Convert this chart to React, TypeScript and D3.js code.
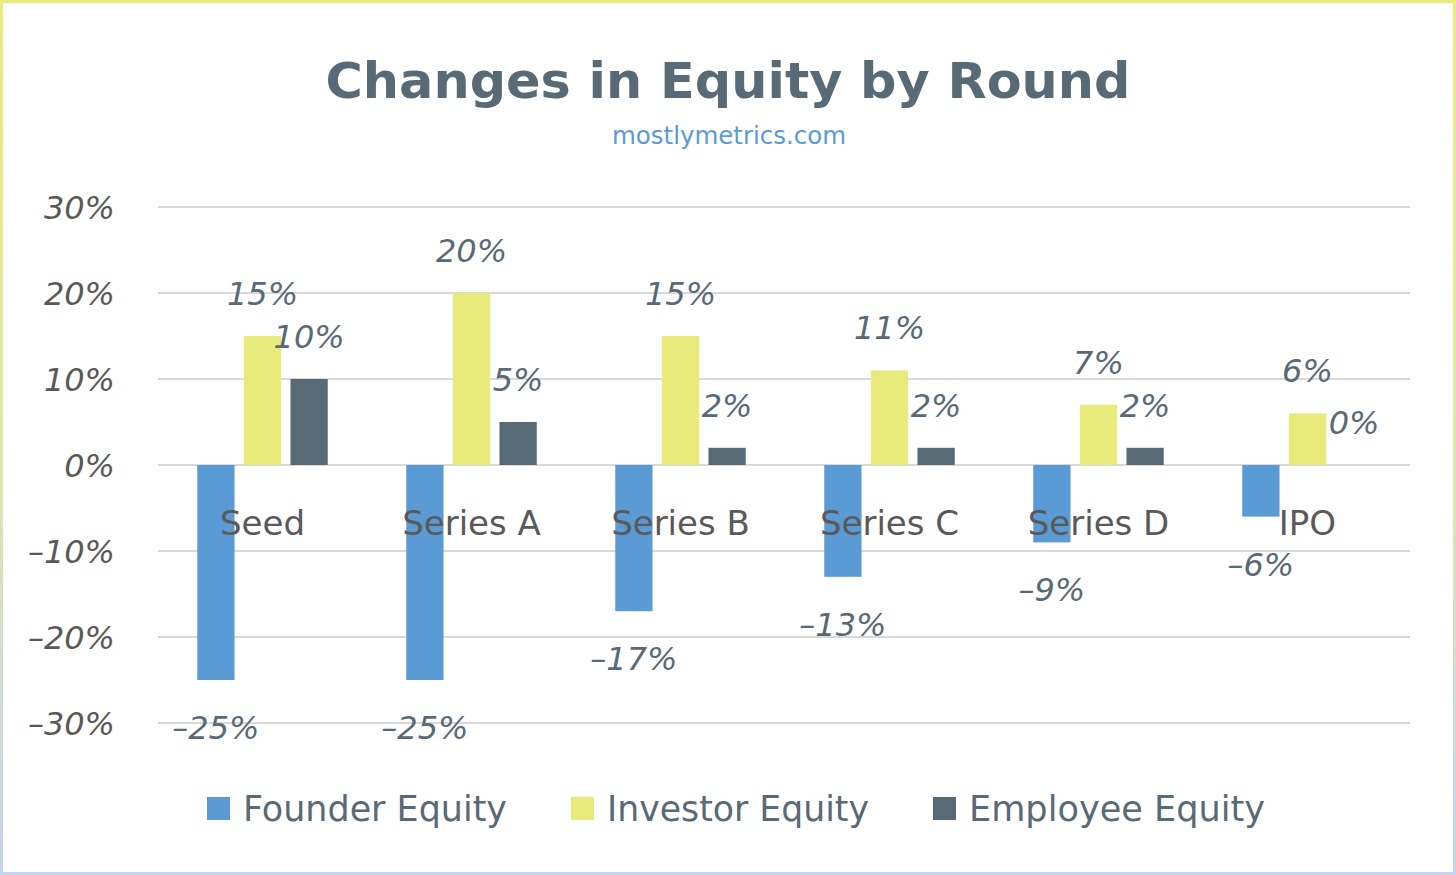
import React from "react";
import * as d3 from "d3";

const categories = ["Seed", "Series A", "Series B", "Series C", "Series D", "IPO"];
const seriesNames = ["Founder Equity", "Investor Equity", "Employee Equity"];
const founder = [-25, -25, -17, -13, -9, -6];
const investor = [15, 20, 15, 11, 7, 6];
const employee = [10, 5, 2, 2, 2, 0];
const yTicks = [30, 20, 10, 0, -10, -20, -30];
const seriesColors = ["#5b9bd5", "#e8ea79", "#596a77"];

const W = 1456;
const H = 875;
const FONT = "'DejaVu Sans', sans-serif";

export default function App() {
  const values = [founder, investor, employee];
  const x0 = d3.scaleBand<string>().domain(categories).range([158, 1412]).paddingInner(0).paddingOuter(0);
  const groupHalf = 65.25;
  const x1 = d3.scaleBand<string>().domain(seriesNames).range([0, groupHalf * 2]).paddingInner(0.2).paddingOuter(0);
  const y = d3.scaleLinear().domain([-30, 30]).range([723, 207]);
  const fmt = (v: number) => (v < 0 ? "\u2013" + Math.abs(v) : String(v)) + "%";

  const legendWidths = [264, 262, 296];
  const legendGap = 64;
  const swatch = 23;
  const swatchGap = 13;
  const itemW = legendWidths.map((w) => swatch + swatchGap + w);
  const totalLegend = d3.sum(itemW) + legendGap * (itemW.length - 1);
  let lx = W / 2 + 8 - totalLegend / 2;
  const legendX = itemW.map((w) => {
    const s = lx;
    lx += w + legendGap;
    return s;
  });

  return (
    <svg width={W} height={H} style={{ position: "absolute", left: 0, top: 0, display: "block" }}>
      <defs>
        <linearGradient id="border" x1="0" y1="0" x2="0" y2="1">
          <stop offset="0" stopColor="#e9ec7c" />
          <stop offset="0.45" stopColor="#e2e9a0" />
          <stop offset="1" stopColor="#c3d4ee" />
        </linearGradient>
      </defs>
      <rect x={0} y={0} width={W} height={H} fill="#ffffff" />
      <rect x={1.5} y={1.5} width={W - 3} height={H - 3} fill="none" stroke="url(#border)" strokeWidth={3} />

      <text x={728} y={98} textAnchor="middle" fontFamily={FONT} fontWeight="bold" fontSize={50} fill="#596a77"
        textLength={805} lengthAdjust="spacingAndGlyphs">
        Changes in Equity by Round
      </text>
      <text x={729} y={144} textAnchor="middle" fontFamily={FONT} fontSize={24} fill="#5b9bd5"
        textLength={234} lengthAdjust="spacingAndGlyphs">
        mostlymetrics.com
      </text>

      {yTicks.map((t) => (
        <g key={t}>
          <line x1={158} x2={1410} y1={y(t)} y2={y(t)} stroke="#d9d9d9" strokeWidth={2} />
          <text x={115} y={y(t) + 12} textAnchor="end" fontFamily={FONT} fontStyle="italic" fontSize={32} fill="#595959">
            {fmt(t)}
          </text>
        </g>
      ))}

      {categories.map((c, ci) => {
        const cx = (x0(c) as number) + x0.bandwidth() / 2 - groupHalf;
        return (
          <g key={c}>
            {seriesNames.map((s, si) => {
              const v = values[si][ci];
              const bx = cx + (x1(s) as number);
              const top = Math.min(y(v), y(0));
              const h = Math.abs(y(v) - y(0));
              return (
                <rect key={s} x={bx} y={top} width={x1.bandwidth()} height={h} fill={seriesColors[si]} />
              );
            })}
          </g>
        );
      })}

      {categories.map((c) => (
        <text key={c} x={(x0(c) as number) + x0.bandwidth() / 2} y={535} textAnchor="middle" fontFamily={FONT}
          fontSize={34} fill="#595959">
          {c}
        </text>
      ))}

      {categories.map((c, ci) => {
        const cx = (x0(c) as number) + x0.bandwidth() / 2 - groupHalf;
        return seriesNames.map((s, si) => {
          const v = values[si][ci];
          const bxc = cx + (x1(s) as number) + x1.bandwidth() / 2;
          const ly = v < 0 ? y(v) + 59 : y(v) - 31;
          return (
            <text key={c + s} x={bxc} y={ly} textAnchor="middle" fontFamily={FONT} fontStyle="italic" fontSize={32}
              fill="#596a77">
              {fmt(v)}
            </text>
          );
        });
      })}

      {seriesNames.map((s, si) => (
        <g key={s}>
          <rect x={legendX[si]} y={797} width={swatch} height={swatch} fill={seriesColors[si]} />
          <text x={legendX[si] + swatch + swatchGap} y={821} fontFamily={FONT} fontSize={35} fill="#596a77"
            textLength={legendWidths[si]} lengthAdjust="spacingAndGlyphs">
            {s}
          </text>
        </g>
      ))}
    </svg>
  );
}
